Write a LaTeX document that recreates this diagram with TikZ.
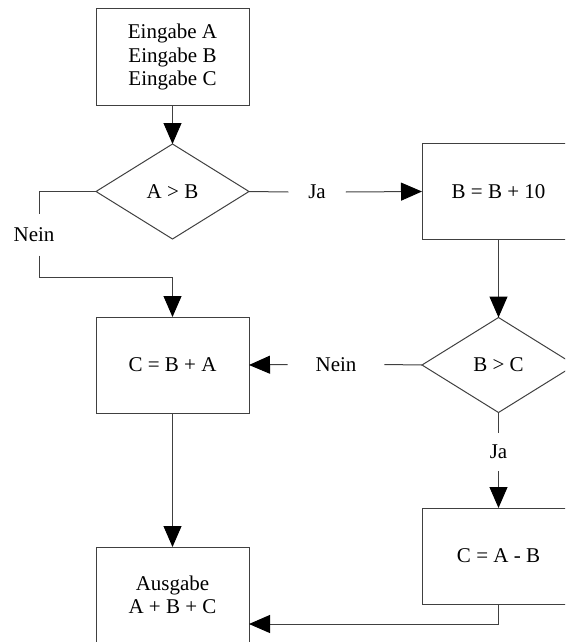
\documentclass[tikz,border=0pt]{standalone}
\usepackage{fontspec}
\setmainfont{Liberation Serif}
\usetikzlibrary{shapes.geometric,arrows.meta}
\tikzset{
  flowline/.style={draw=black!75, line width=1pt},
  arr/.style={flowline, -{Triangle[length=21pt,width=18pt,color=black]}},
  procbox/.style={rectangle, draw=black!75, line width=1pt, minimum width=153pt, minimum height=96pt, inner sep=0pt, outer sep=0pt, align=center, font=\fontsize{21}{23.5}\selectfont},
  decbox/.style={diamond, draw=black!75, line width=1pt, minimum width=153pt, minimum height=95pt, inner sep=0pt, outer sep=0pt, aspect=1.6, font=\fontsize{21}{23.5}\selectfont},
  lbl/.style={font=\fontsize{21}{23.5}\selectfont, inner sep=0pt, outer sep=0pt}
}
\begin{document}
\begin{tikzpicture}[x=1pt,y=-1pt]
\useasboundingbox (0,0) rectangle (565,642);
\clip (0,0) rectangle (565,642);
\node[procbox] (in) at (172.5,57) {Eingabe A\\Eingabe B\\Eingabe C};
\node[decbox] (d1) at (172.5,191.5) {A > B};
\node[procbox] (b1) at (498.5,191.5) {B = B + 10};
\node[decbox] (d2) at (498.5,365) {B > C};
\node[procbox] (c1) at (172.5,365) {C = B + A};
\node[procbox] (cab) at (498.5,556) {C = A - B};
\node[procbox] (out) at (172.5,595) {Ausgabe\\A + B + C};
% labels
\node[lbl, inner xsep=20pt] (ja1) at (317,192) {Ja};
\node[lbl, inner ysep=13.5pt] (nein1) at (34,235) {Nein};
\node[lbl, inner xsep=28pt] (nein2) at (336,364.5) {Nein};
\node[lbl, inner ysep=12.5pt] (ja2) at (498.5,452) {Ja};
\coordinate (k1) at (39,191.5);
\coordinate (k2) at (39,277);
% connectors
\draw[arr] (in.south) -- (d1.north);
\draw[flowline] (d1.east) -- (ja1.west);
\draw[arr] (ja1.east) -- (b1.west);
\draw[flowline] (d1.west) -- (k1) -- (k1 |- nein1.north);
\draw[arr] (k1 |- nein1.south) -- (k2) -| (c1.north);
\draw[arr] (b1.south) -- (d2.north);
\draw[flowline] (d2.west) -- (nein2.east);
\draw[arr] (nein2.west) -- (c1.east);
\draw[flowline] (d2.south) -- (ja2.north);
\draw[arr] (ja2.south) -- (cab.north);
\draw[arr] (c1.south) -- (out.north);
\draw[arr] (cab.south) |- ([yshift=-29pt]out.east);
\end{tikzpicture}
\end{document}
